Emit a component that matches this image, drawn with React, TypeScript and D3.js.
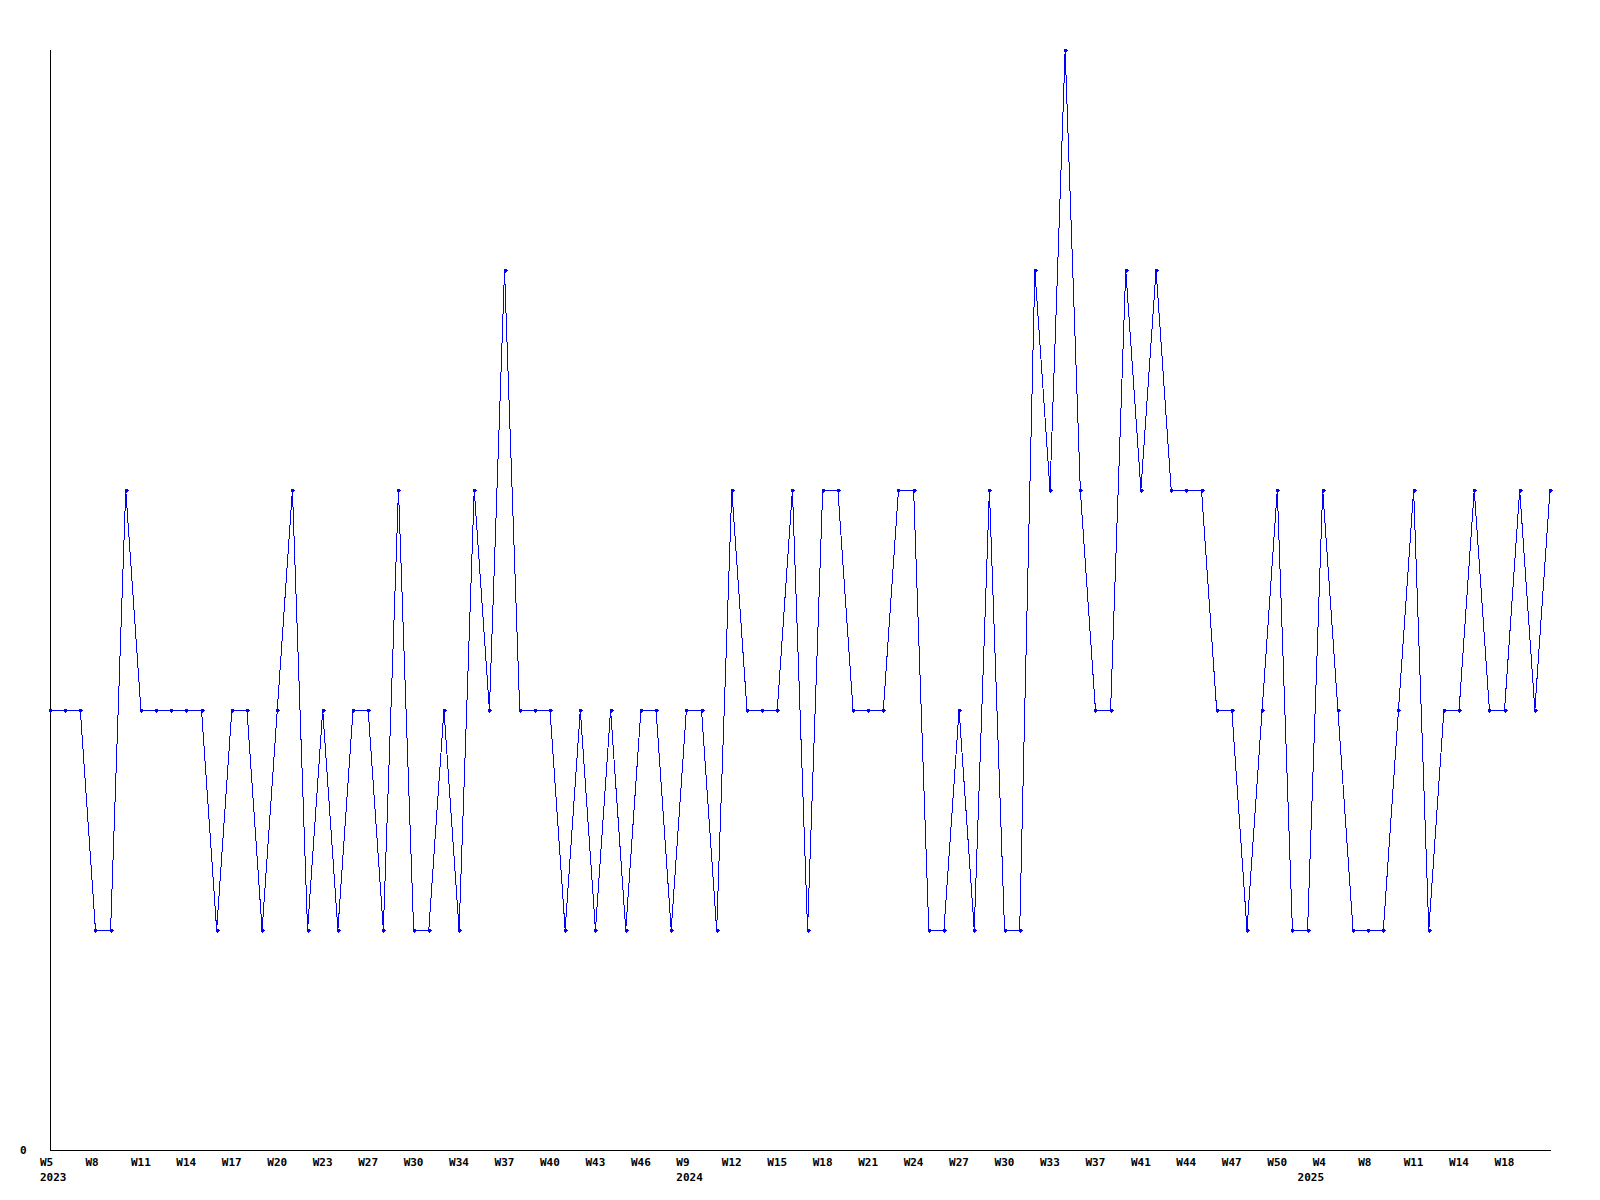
import React from "react";
import * as d3 from "d3";

const values: number[] = [
  2, 2, 2, 1, 1, 3, 2, 2, 2, 2,
  2, 1, 2, 2, 1, 2, 3, 1, 2, 1,
  2, 2, 1, 3, 1, 1, 2, 1, 3, 2,
  4, 2, 2, 2, 1, 2, 1, 2, 1, 2,
  2, 1, 2, 2, 1, 3, 2, 2, 2, 3,
  1, 3, 3, 2, 2, 2, 3, 3, 1, 1,
  2, 1, 3, 1, 1, 4, 3, 5, 3, 2,
  2, 4, 3, 4, 3, 3, 3, 2, 2, 1,
  2, 3, 1, 1, 3, 2, 1, 1, 1, 2,
  3, 1, 2, 2, 3, 2, 2, 3, 2, 3,
];

const tickLabels: string[] = [
  "W5", "W8", "W11", "W14", "W17", "W20", "W23", "W27", "W30", "W34",
  "W37", "W40", "W43", "W46", "W9", "W12", "W15", "W18", "W21", "W24",
  "W27", "W30", "W33", "W37", "W41", "W44", "W47", "W50", "W4", "W8",
  "W11", "W14", "W18",
];
const tickEvery = 3;
const yearLabels: { point: number; label: string }[] = [
  { point: 0, label: "2023" },
  { point: 42, label: "2024" },
  { point: 83, label: "2025" },
];

const W = 1600;
const H = 1200;
const left = 50;
const right = 1550;
const top = 50;
const bottom = 1150;
const yMax = 5;

export default function App() {
  const x = d3.scaleLinear().domain([0, values.length - 1]).range([left, right]);
  const y = d3.scaleLinear().domain([0, yMax]).range([bottom, top]);
  const line = d3
    .line<number>()
    .x((_, i) => x(i))
    .y((d) => y(d));
  const font = "'DejaVu Sans Mono', monospace";
  return (
    <svg
      width={W}
      height={H}
      style={{ position: "absolute", left: 0, top: 0, background: "#fff" }}
    >
      <rect x={0} y={0} width={W} height={H} fill="#fff" />
      <line x1={left + 0.5} y1={top} x2={left + 0.5} y2={bottom + 0.5} stroke="#000" strokeWidth={1} shapeRendering="crispEdges" />
      <line x1={left} y1={bottom + 0.5} x2={right + 1} y2={bottom + 0.5} stroke="#000" strokeWidth={1} shapeRendering="crispEdges" />
      <text x={20} y={bottom + 4} fontFamily={font} fontWeight="bold" fontSize={11} fill="#000">
        0
      </text>
      <path d={line(values) || ""} fill="none" stroke="#0000ff" strokeWidth={1} shapeRendering="crispEdges" />
      {values.map((v, i) => (
        <path
          key={i}
          transform={`translate(${Math.round(x(i)) + 0.5},${Math.round(y(v)) + 0.5})`}
          d="M-2,0H2M0,-2V2M-1,-1H1V1H-1Z"
          stroke="#0000ff"
          fill="#0000ff"
          strokeWidth={1}
          shapeRendering="crispEdges"
        />
      ))}
      {tickLabels.map((t, k) => (
        <text
          key={k}
          x={x(k * tickEvery) - 10}
          y={bottom + 16}
          fontFamily={font}
          fontWeight="bold"
          fontSize={11}
          fill="#000"
        >
          {t}
        </text>
      ))}
      {yearLabels.map((yl) => (
        <text
          key={yl.label}
          x={x(yl.point) - 10}
          y={bottom + 31}
          fontFamily={font}
          fontWeight="bold"
          fontSize={11}
          fill="#000"
        >
          {yl.label}
        </text>
      ))}
    </svg>
  );
}
